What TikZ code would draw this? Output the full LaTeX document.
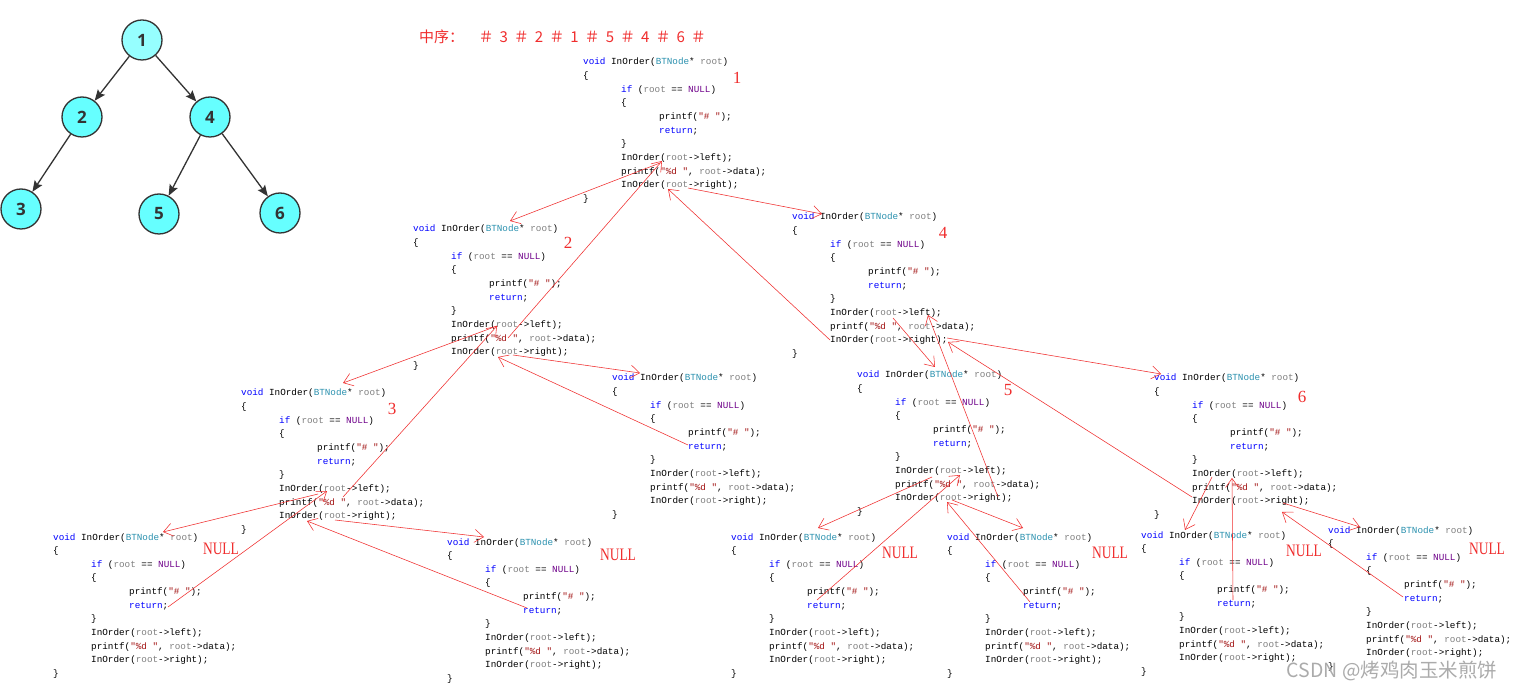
\documentclass[tikz,border=0pt]{standalone}
\usepackage{fontspec}
\usepackage{graphicx}
\usepackage{xcolor}
\usepackage{tikz}
\usetikzlibrary{arrows.meta}
\newfontfamily\codefont{Liberation Mono}
\newfontfamily\cjkfont{Noto Sans CJK SC}
\newfontfamily\treefont{Open Sans}
\newfontfamily\numfont{Liberation Serif}
\definecolor{kwblue}{RGB}{0,0,255}
\definecolor{tyteal}{RGB}{43,145,175}
\definecolor{pargray}{RGB}{128,128,128}
\definecolor{nulpurple}{RGB}{111,0,138}
\definecolor{strred}{RGB}{163,21,21}
\definecolor{penred}{RGB}{240,45,45}
\definecolor{treeline}{RGB}{51,51,51}
\definecolor{treefill}{RGB}{102,255,255}
\definecolor{treefilltop}{RGB}{150,255,255}
\newcommand\ckw[1]{\textcolor{kwblue}{#1}}
\newcommand\cty[1]{\textcolor{tyteal}{#1}}
\newcommand\cpar[1]{\textcolor{pargray}{#1}}
\newcommand\cnul[1]{\textcolor{nulpurple}{#1}}
\newcommand\cstr[1]{\textcolor{strred}{#1}}
\newcommand\tk[1]{\makebox[17.7pt]{#1}}
\newcommand\inorderbody{%
  \begin{tabular}[t]{@{}l@{}}
  \ckw{void} InOrder(\cty{BTNode}* \cpar{root})\\
  \{\\
  \hspace*{38pt}\ckw{if} (\cpar{root} == \cnul{NULL})\\
  \hspace*{38pt}\{\\
  \hspace*{76pt}printf(\cstr{"\# "});\\
  \hspace*{76pt}\ckw{return};\\
  \hspace*{38pt}\}\\
  \hspace*{38pt}InOrder(\cpar{root}->left);\\
  \hspace*{38pt}printf(\cstr{"\%d "}, \cpar{root}->data);\\
  \hspace*{38pt}InOrder(\cpar{root}->right);\\
  \}
  \end{tabular}}

\begin{document}
\begin{tikzpicture}[x=1pt, y=-1pt,
      tnode/.style={circle, draw=treeline, line width=1.3pt, fill=treefill,
                    minimum size=40pt, inner sep=0pt, text=treeline,
                    font=\treefont\bfseries\fontsize{17}{17}\selectfont},
      tedge/.style={-{Stealth[length=11pt,width=9pt,inset=2pt]},
                    line width=1.3pt, draw=treeline},
      code/.style={anchor=base west, inner sep=0pt,
                   font=\codefont\fontsize{9.3}{13.65}\selectfont},
      num/.style={inner sep=0pt, text=penred,
                  font=\numfont\fontsize{17}{17}\selectfont},
      nulltag/.style={inner sep=0pt, text=penred,
                      font=\numfont\fontsize{17.5}{17.5}\selectfont},
      hdr/.style={inner sep=0pt, anchor=west, text=penred,
                  font=\cjkfont\fontsize{15}{15}\selectfont},
      wmark/.style={inner sep=0pt, text=black!33,
                    font=\cjkfont\fontsize{19.5}{19.5}\selectfont},
      pen/.style={-{Straight Barb[length=9pt,width=13pt]},
                  draw=penred, line width=0.55pt}
  ]
    \fill[white] (0,0) rectangle (1513,692);
    \useasboundingbox (0,0) rectangle (1513,692);

    % tree
    \node[tnode, fill=treefilltop] (t1) at (142,40) {1};
    \node[tnode] (t2) at (82,117)  {2};
    \node[tnode] (t4) at (210,117) {4};
    \node[tnode] (t3) at (21,209)  {3};
    \node[tnode] (t5) at (159,214) {5};
    \node[tnode] (t6) at (280,213) {6};
    \draw[tedge] (t1)--(t2);
    \draw[tedge] (t1)--(t4);
    \draw[tedge] (t2)--(t3);
    \draw[tedge] (t4)--(t5);
    \draw[tedge] (t4)--(t6);

    \node[hdr] (seq) at (419,37) {中序：\hspace{13pt}\tk{＃}\tk{3}\tk{＃}\tk{2}\tk{＃}\tk{1}\tk{＃}\tk{5}\tk{＃}\tk{4}\tk{＃}\tk{6}\tk{＃}};

    % call frames
    \node[code] (b1)  at (583,65)   {\inorderbody};
    \node[code] (b2)  at (413,232)  {\inorderbody};
    \node[code] (b3)  at (241,396)  {\inorderbody};
    \node[code] (b2r) at (612,381)  {\inorderbody};
    \node[code] (b3l) at (53,540)   {\inorderbody};
    \node[code] (b3r) at (447,545)  {\inorderbody};
    \node[code] (b4)  at (792,220)  {\inorderbody};
    \node[code] (b5)  at (857,378)  {\inorderbody};
    \node[code] (b6)  at (1154,381) {\inorderbody};
    \node[code] (b5l) at (731,540)  {\inorderbody};
    \node[code] (b5r) at (947,540)  {\inorderbody};
    \node[code] (b6l) at (1141,538) {\inorderbody};
    \node[code] (b6r) at (1328,533) {\inorderbody};

    \node[num] (l1) at (737,78)  {1};
    \node[num] (l2) at (568,243) {2};
    \node[num] (l3) at (392,409) {3};
    \node[num] (l4) at (943,233) {4};
    \node[num] (l5) at (1008,390) {5};
    \node[num] (l6) at (1302,397) {6};

    \node[nulltag] (n3l) at (221,549)  {\scalebox{0.77}[1]{NULL}};
    \node[nulltag] (n3r) at (618,555)  {\scalebox{0.77}[1]{NULL}};
    \node[nulltag] (n5l) at (900,553)  {\scalebox{0.77}[1]{NULL}};
    \node[nulltag] (n5r) at (1110,553) {\scalebox{0.77}[1]{NULL}};
    \node[nulltag] (n6l) at (1304,551) {\scalebox{0.77}[1]{NULL}};
    \node[nulltag] (n6r) at (1487,549) {\scalebox{0.77}[1]{NULL}};

    % points on the code lines
    \coordinate (c1l) at (660,163);  \coordinate (c1r) at (688,188);
    \coordinate (c2l) at (497,326);  \coordinate (c2r) at (513,355);
    \coordinate (c3l) at (318,494);  \coordinate (c3r) at (335,520);
    \coordinate (c4l) at (893,318);  \coordinate (c4r) at (947,338);
    \coordinate (c5l) at (932,477);  \coordinate (c5r) at (952,500);
    \coordinate (c6l) at (1212,477); \coordinate (c6r) at (1283,503);
    \coordinate (e2)  at (510,221);  \coordinate (e4)  at (822,214);
    \coordinate (e3)  at (343,383);  \coordinate (e2r) at (640,373);
    \coordinate (e3l) at (163,532);  \coordinate (e3r) at (484,537);
    \coordinate (e5)  at (935,367);  \coordinate (e6)  at (1161,374);
    \coordinate (e5l) at (818,528);  \coordinate (e5r) at (1023,528);
    \coordinate (e6l) at (1185,530); \coordinate (e6r) at (1360,527);
    \coordinate (r2)  at (508,338);  \coordinate (r3)  at (343,497);
    \coordinate (r4)  at (830,340);  \coordinate (r5)  at (998,497);
    \coordinate (r6)  at (1192,497); \coordinate (r2r) at (688,445);
    \coordinate (r3l) at (168,607);  \coordinate (r3r) at (527,608);
    \coordinate (r5l) at (817,600);  \coordinate (r5r) at (1030,602);
    \coordinate (r6l) at (1233,600); \coordinate (r6r) at (1403,597);
    \coordinate (k1a) at (662,161);  \coordinate (k1b) at (668,189);
    \coordinate (k2b) at (498,357);  \coordinate (k3a) at (327,491);
    \coordinate (k3b) at (307,521);  \coordinate (k4a) at (928,315);
    \coordinate (k4b) at (948,342);  \coordinate (k5a) at (960,475);
    \coordinate (k5b) at (947,502);  \coordinate (k6a) at (1232,478);
    \coordinate (k6b) at (1282,512);

    % calls
    \draw[pen] (c1l)--(e2);
    \draw[pen] (c1r)--(e4);
    \draw[pen] (c2l)--(e3);
    \draw[pen] (c2r)--(e2r);
    \draw[pen] (c3l)--(e3l);
    \draw[pen] (c3r)--(e3r);
    \draw[pen] (c4l)--(e5);
    \draw[pen] (c4r)--(e6);
    \draw[pen] (c5l)--(e5l);
    \draw[pen] (c5r)--(e5r);
    \draw[pen] (c6l)--(e6l);
    \draw[pen] (c6r)--(e6r);
    % returns
    \draw[pen] (r3l)--(k3a);
    \draw[pen] (r3r)--(k3b);
    \draw[pen] (r3)--(c2l);
    \draw[pen] (r2r)--(k2b);
    \draw[pen] (r2)--(k1a);
    \draw[pen] (r4)--(k1b);
    \draw[pen] (r5l)--(k5a);
    \draw[pen] (r5r)--(k5b);
    \draw[pen] (r5)--(k4a);
    \draw[pen] (r6l)--(k6a);
    \draw[pen] (r6r)--(k6b);
    \draw[pen] (r6)--(k4b);

    \node[wmark] (wm) at (1392,671) {CSDN @烤鸡肉玉米煎饼};
  \end{tikzpicture}
\end{document}
